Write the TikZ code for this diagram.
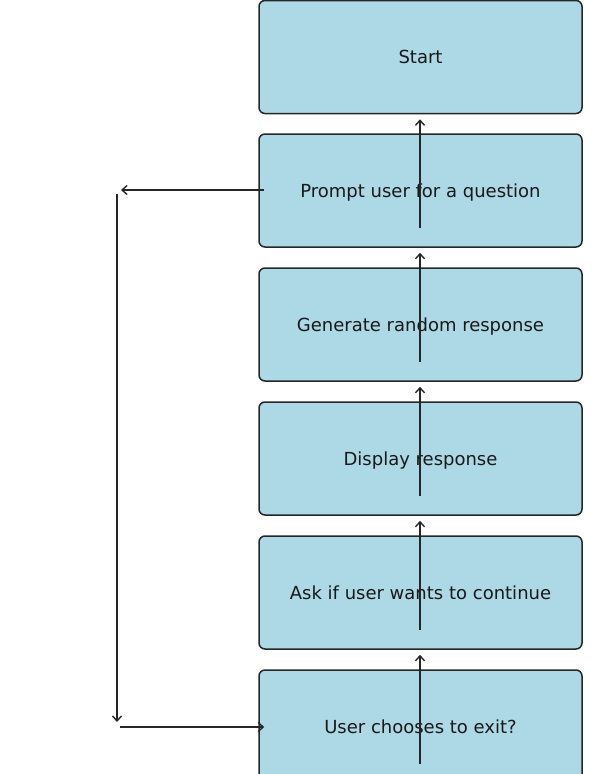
\documentclass[tikz,border=0pt]{standalone}
\usepackage{fontspec}
\setmainfont{DejaVu Sans}
\usetikzlibrary{arrows.meta}

\begin{document}
\begin{tikzpicture}[x=1pt,y=-1pt,
		stepbox/.style={draw=black!85,line width=1.5pt,fill={rgb,255:red,173;green,216;blue,230},
			rounded corners=6pt,minimum width=323pt,minimum height=113pt,inner sep=0pt,
			text height=13pt,text depth=0pt,
			font=\fontsize{18}{21}\selectfont,text=black!90},
		link/.style={draw=black!85,line width=1.6pt,-{Straight Barb[length=5pt,width=9pt,line width=1.4pt]}}]
		\useasboundingbox (0,0) rectangle (594,774);
		\begin{scope}
			\clip (0,0) rectangle (594,774);
		\node[stepbox] (start) at (420.5,57) {Start};
		\node[stepbox] (prompt) at (420.5,190.5) {Prompt user for a question};
		\node[stepbox] (gen) at (420.5,324.5) {Generate random response};
		\node[stepbox] (show) at (420.5,458.5) {Display response};
		\node[stepbox] (ask) at (420.5,592.5) {Ask if user wants to continue};
		\node[stepbox] (exit) at (420.5,726.5) {User chooses to exit?};
		\end{scope}
		\draw[link] ([xshift=-0.5pt,yshift=-37pt]prompt.center) -- ([xshift=-0.5pt,yshift=-5pt]start.south);
		\draw[link] ([xshift=-0.5pt,yshift=-37pt]gen.center) -- ([xshift=-0.5pt,yshift=-5pt]prompt.south);
		\draw[link] ([xshift=-0.5pt,yshift=-37pt]show.center) -- ([xshift=-0.5pt,yshift=-5pt]gen.south);
		\draw[link] ([xshift=-0.5pt,yshift=-37pt]ask.center) -- ([xshift=-0.5pt,yshift=-5pt]show.south);
		\draw[link] ([xshift=-0.5pt,yshift=-37pt]exit.center) -- ([xshift=-0.5pt,yshift=-5pt]ask.south);
		% loop back on the left
		\coordinate (lt) at (121,190);
		\coordinate (vt) at (117,194);
		\coordinate (vb) at (117,722);
		\coordinate (lb) at (120,727);
		\draw[link] ([xshift=6pt,yshift=0.5pt]prompt.west) -- (lt);
		\draw[link] (vt) -- (vb);
		\draw[link] (lb) -- ([xshift=6pt,yshift=-0.5pt]exit.west);
		\end{tikzpicture}
\end{document}
